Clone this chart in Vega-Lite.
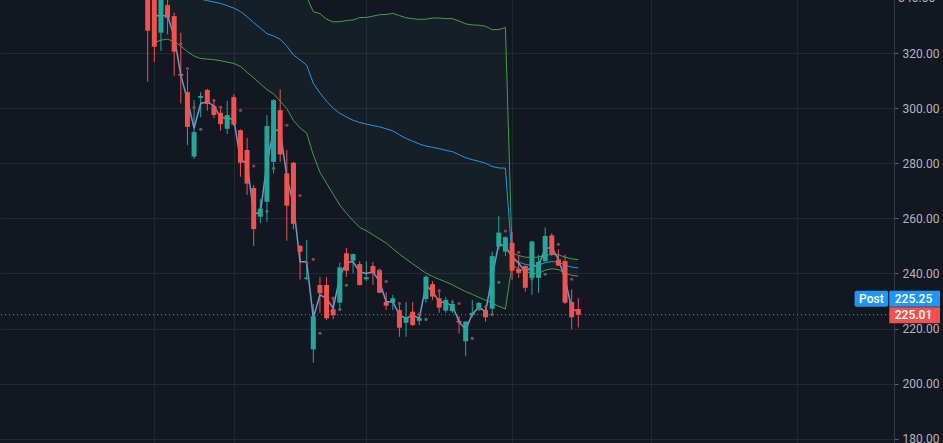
{
  "$schema": "https://vega.github.io/schema/vega-lite/v6.json",
  "width": 894,
  "height": 443,
  "autosize": {"type": "none"},
  "padding": {"left": 0, "top": 0, "right": 49, "bottom": 0},
  "background": "#131722",
  "config": {"view": {"stroke": null}, "font": "Roboto"},
  "datasets": {
    "candles": [
      {"i": 0, "o": 342, "h": 345, "l": 309.6, "c": 328.1, "ln": null},
      {"i": 1, "o": 341, "h": 343, "l": 316.8, "c": 322.3, "ln": 333.5},
      {"i": 2, "o": 327.4, "h": 344, "l": 320.8, "c": 341, "ln": 333.5},
      {"i": 3, "o": 337.4, "h": 341, "l": 326.8, "c": 332.8, "ln": 333.5},
      {"i": 4, "o": 333.4, "h": 334.6, "l": 311.7, "c": 320.5, "ln": 326},
      {"i": 5, "o": 312.4, "h": 327.4, "l": 301.7, "c": 311.8, "ln": 312},
      {"i": 6, "o": 305.8, "h": 313.6, "l": 286.6, "c": 293.2, "ln": 302.9},
      {"i": 7, "o": 282.4, "h": 302.9, "l": 281.5, "c": 291.3, "ln": 292.7},
      {"i": 8, "o": 303.7, "h": 305.8, "l": 296.7, "c": 304.4, "ln": 301.7},
      {"i": 9, "o": 306.6, "h": 307.0, "l": 299.1, "c": 301.5, "ln": 302.3},
      {"i": 10, "o": 300.8, "h": 302.9, "l": 296.4, "c": 297.5, "ln": 300.8},
      {"i": 11, "o": 298.3, "h": 300.8, "l": 291.8, "c": 294.2, "ln": 296.7},
      {"i": 12, "o": 292.5, "h": 302.7, "l": 290.6, "c": 297.5, "ln": 296.3},
      {"i": 13, "o": 304.0, "h": 305.0, "l": 293.5, "c": 294.0, "ln": 296.0},
      {"i": 14, "o": 292.0, "h": 292.3, "l": 275.1, "c": 280.2, "ln": 281.2},
      {"i": 15, "o": 284.8, "h": 289.1, "l": 268.5, "c": 272.6, "ln": 280.0},
      {"i": 16, "o": 271.0, "h": 272.1, "l": 250.0, "c": 256.1, "ln": 261.8},
      {"i": 17, "o": 260.6, "h": 267.0, "l": 258.2, "c": 263.5, "ln": 261.8},
      {"i": 18, "o": 266.0, "h": 297.5, "l": 258.8, "c": 293.5, "ln": 280.0},
      {"i": 19, "o": 280.5, "h": 303.3, "l": 276.3, "c": 302.9, "ln": 292.0},
      {"i": 20, "o": 299.3, "h": 306.8, "l": 280.5, "c": 283.2, "ln": 292.0},
      {"i": 21, "o": 276.3, "h": 284.8, "l": 251.9, "c": 264.6, "ln": 275.1},
      {"i": 22, "o": 280.2, "h": 280.5, "l": 256.0, "c": 258.0, "ln": 265.0},
      {"i": 23, "o": 250.0, "h": 250.3, "l": 237.8, "c": 247.9, "ln": 244.2},
      {"i": 24, "o": 238.0, "h": 252.1, "l": 237.5, "c": 238.5, "ln": 244.2},
      {"i": 25, "o": 212.4, "h": 228.9, "l": 207.6, "c": 224.5, "ln": 223.8},
      {"i": 26, "o": 235.8, "h": 238.8, "l": 225.7, "c": 232.8, "ln": 232.2},
      {"i": 27, "o": 235.8, "h": 238.6, "l": 223.1, "c": 223.7, "ln": 231.0},
      {"i": 28, "o": 227.0, "h": 231.5, "l": 223.4, "c": 224.8, "ln": 227.3},
      {"i": 29, "o": 229.4, "h": 243.9, "l": 226.5, "c": 242.2, "ln": 238.8},
      {"i": 30, "o": 247.3, "h": 249.2, "l": 238.8, "c": 241.0, "ln": 244.0},
      {"i": 31, "o": 244.6, "h": 247.2, "l": 240.0, "c": 247.0, "ln": 244.2},
      {"i": 32, "o": 243.4, "h": 244.4, "l": 235.6, "c": 235.8, "ln": 240.6},
      {"i": 33, "o": 237.9, "h": 244.4, "l": 237.2, "c": 238.6, "ln": 240.0},
      {"i": 34, "o": 242.7, "h": 244.1, "l": 235.9, "c": 240.0, "ln": 240.6},
      {"i": 35, "o": 241.2, "h": 241.5, "l": 232.8, "c": 233.0, "ln": 237.0},
      {"i": 36, "o": 229.7, "h": 233.2, "l": 226.7, "c": 228.3, "ln": 229.7},
      {"i": 37, "o": 229.4, "h": 232.2, "l": 226.7, "c": 231.0, "ln": 229.7},
      {"i": 38, "o": 226.7, "h": 229.6, "l": 217.0, "c": 220.3, "ln": 224.9},
      {"i": 39, "o": 222.1, "h": 229.6, "l": 217.0, "c": 224.0, "ln": 223.7},
      {"i": 40, "o": 226.1, "h": 229.6, "l": 220.9, "c": 221.3, "ln": 224.9},
      {"i": 41, "o": 222.8, "h": 225.6, "l": 221.3, "c": 223.8, "ln": 223.7},
      {"i": 42, "o": 230.7, "h": 239.4, "l": 229.4, "c": 238.8, "ln": 235.8},
      {"i": 43, "o": 236.1, "h": 237.2, "l": 230.4, "c": 231.6, "ln": 233.4},
      {"i": 44, "o": 231.0, "h": 234.2, "l": 225.7, "c": 227.6, "ln": 229.7},
      {"i": 45, "o": 226.5, "h": 231.5, "l": 225.7, "c": 230.4, "ln": 229.4},
      {"i": 46, "o": 226.3, "h": 230.4, "l": 225.7, "c": 228.9, "ln": 228.2},
      {"i": 47, "o": 222.8, "h": 224.5, "l": 218.3, "c": 222.2, "ln": 222.5},
      {"i": 48, "o": 215.4, "h": 222.6, "l": 210.0, "c": 222.5, "ln": 219.5},
      {"i": 49, "o": 224.9, "h": 230.4, "l": 224.1, "c": 225.7, "ln": 225.3},
      {"i": 50, "o": 226.8, "h": 229.6, "l": 226.7, "c": 229.3, "ln": 227.7},
      {"i": 51, "o": 226.7, "h": 228.5, "l": 222.5, "c": 224.1, "ln": 226.1},
      {"i": 52, "o": 227.2, "h": 247.9, "l": 224.9, "c": 246.3, "ln": 238.8},
      {"i": 53, "o": 249.7, "h": 260.8, "l": 248.7, "c": 254.8, "ln": 250.9},
      {"i": 54, "o": 247.9, "h": 253.5, "l": 246.3, "c": 253.1, "ln": 249.7},
      {"i": 55, "o": 251.1, "h": 255.0, "l": 237.6, "c": 241.0, "ln": 246.1},
      {"i": 56, "o": 241.6, "h": 246.7, "l": 238.4, "c": 240.2, "ln": 243.7},
      {"i": 57, "o": 242.7, "h": 242.9, "l": 233.4, "c": 234.8, "ln": 240.6},
      {"i": 58, "o": 238.4, "h": 251.8, "l": 232.2, "c": 251.6, "ln": 242.4},
      {"i": 59, "o": 238.4, "h": 246.7, "l": 233.0, "c": 244.2, "ln": 243.0},
      {"i": 60, "o": 244.5, "h": 256.7, "l": 243.9, "c": 253.6, "ln": 249.0},
      {"i": 61, "o": 253.8, "h": 254.6, "l": 246.3, "c": 247.0, "ln": 249.5},
      {"i": 62, "o": 245.0, "h": 248.7, "l": 242.7, "c": 242.8, "ln": 245.1},
      {"i": 63, "o": 244.5, "h": 246.9, "l": 228.8, "c": 229.4, "ln": 238.0},
      {"i": 64, "o": 229.6, "h": 234.2, "l": 219.8, "c": 224.1, "ln": 227.3},
      {"i": 65, "o": 227.1, "h": 231.0, "l": 220.4, "c": 225.01, "ln": 226.1}
    ],
    "bands": [
      {"i": 1, "up": 364.3, "mid": 344.0, "lo": 323.7},
      {"i": 2, "up": 363.3, "mid": 344.0, "lo": 324.7},
      {"i": 3, "up": 363.0, "mid": 344.0, "lo": 325.0},
      {"i": 4, "up": 362.8, "mid": 343.5, "lo": 324.2},
      {"i": 5, "up": 362.5, "mid": 342.5, "lo": 322.5},
      {"i": 6, "up": 362.5, "mid": 341.5, "lo": 320.5},
      {"i": 7, "up": 362.1, "mid": 340.5, "lo": 318.9},
      {"i": 8, "up": 361.2, "mid": 339.6, "lo": 318.0},
      {"i": 9, "up": 360.2, "mid": 339.0, "lo": 317.8},
      {"i": 10, "up": 359.4, "mid": 338.5, "lo": 317.6},
      {"i": 11, "up": 358.8, "mid": 338.0, "lo": 317.2},
      {"i": 12, "up": 357.7, "mid": 337.2, "lo": 316.7},
      {"i": 13, "up": 356.4, "mid": 336.3, "lo": 316.2},
      {"i": 14, "up": 355.1, "mid": 335.1, "lo": 315.1},
      {"i": 15, "up": 353.4, "mid": 333.2, "lo": 313.0},
      {"i": 16, "up": 351.0, "mid": 331.0, "lo": 311.0},
      {"i": 17, "up": 349.4, "mid": 329.1, "lo": 308.8},
      {"i": 18, "up": 347.3, "mid": 327.0, "lo": 306.7},
      {"i": 19, "up": 347.2, "mid": 326.2, "lo": 305.2},
      {"i": 20, "up": 347.5, "mid": 325.0, "lo": 302.5},
      {"i": 21, "up": 345.2, "mid": 322.5, "lo": 299.8},
      {"i": 22, "up": 343.1, "mid": 319.3, "lo": 295.5},
      {"i": 23, "up": 342.2, "mid": 317.5, "lo": 292.8},
      {"i": 24, "up": 340.3, "mid": 315.6, "lo": 290.9},
      {"i": 25, "up": 335.0, "mid": 309.0, "lo": 283.0},
      {"i": 26, "up": 334.3, "mid": 305.5, "lo": 276.7},
      {"i": 27, "up": 332.3, "mid": 302.5, "lo": 272.7},
      {"i": 28, "up": 331.3, "mid": 300.0, "lo": 268.7},
      {"i": 29, "up": 331.4, "mid": 298.1, "lo": 264.8},
      {"i": 30, "up": 331.8, "mid": 296.8, "lo": 261.8},
      {"i": 31, "up": 332.0, "mid": 295.6, "lo": 259.2},
      {"i": 32, "up": 332.9, "mid": 294.8, "lo": 256.7},
      {"i": 33, "up": 332.9, "mid": 294.2, "lo": 255.5},
      {"i": 34, "up": 333.4, "mid": 293.7, "lo": 254.0},
      {"i": 35, "up": 333.9, "mid": 293.2, "lo": 252.5},
      {"i": 36, "up": 334.0, "mid": 292.5, "lo": 251.0},
      {"i": 37, "up": 334.4, "mid": 291.7, "lo": 249.0},
      {"i": 38, "up": 333.6, "mid": 290.3, "lo": 247.0},
      {"i": 39, "up": 332.8, "mid": 289.0, "lo": 245.2},
      {"i": 40, "up": 332.5, "mid": 288.0, "lo": 243.5},
      {"i": 41, "up": 332.2, "mid": 287.0, "lo": 241.8},
      {"i": 42, "up": 332.3, "mid": 286.2, "lo": 240.1},
      {"i": 43, "up": 332.7, "mid": 285.8, "lo": 238.9},
      {"i": 44, "up": 332.7, "mid": 285.3, "lo": 237.9},
      {"i": 45, "up": 332.5, "mid": 284.7, "lo": 236.9},
      {"i": 46, "up": 332.5, "mid": 284.2, "lo": 235.9},
      {"i": 47, "up": 331.6, "mid": 283.1, "lo": 234.6},
      {"i": 48, "up": 330.6, "mid": 282.0, "lo": 233.4},
      {"i": 49, "up": 330.2, "mid": 281.3, "lo": 232.4},
      {"i": 50, "up": 330.1, "mid": 280.7, "lo": 231.3},
      {"i": 51, "up": 329.7, "mid": 280.0, "lo": 230.3},
      {"i": 52, "up": 328.5, "mid": 278.8, "lo": 229.1},
      {"i": 53, "up": 328.5, "mid": 278.3, "lo": 228.1},
      {"i": 54, "up": 329.3, "mid": 278.2, "lo": 227.1},
      {"i": 55, "up": 247.4, "mid": 245.2, "lo": 243.0},
      {"i": 56, "up": 246.5, "mid": 244.1, "lo": 241.7},
      {"i": 57, "up": 245.9, "mid": 243.3, "lo": 240.7},
      {"i": 58, "up": 245.8, "mid": 242.9, "lo": 240.0},
      {"i": 59, "up": 246.0, "mid": 243.0, "lo": 240.0},
      {"i": 60, "up": 246.6, "mid": 243.9, "lo": 241.2},
      {"i": 61, "up": 246.9, "mid": 244.3, "lo": 241.7},
      {"i": 62, "up": 246.8, "mid": 244.1, "lo": 241.4},
      {"i": 63, "up": 245.9, "mid": 243.0, "lo": 240.1},
      {"i": 64, "up": 245.3, "mid": 242.3, "lo": 239.3},
      {"i": 65, "up": 245.0, "mid": 242.0, "lo": 239.0}
    ],
    "dots": [
      {"i": 5, "p": 323.4, "side": "sell"},
      {"i": 6, "p": 314.4, "side": "sell"},
      {"i": 7, "p": 300.3, "side": "sell"},
      {"i": 8, "p": 292.3, "side": "buy"},
      {"i": 10, "p": 302.8, "side": "sell"},
      {"i": 11, "p": 300.3, "side": "sell"},
      {"i": 14, "p": 299.2, "side": "sell"},
      {"i": 16, "p": 279.0, "side": "sell"},
      {"i": 18, "p": 262.5, "side": "buy"},
      {"i": 19, "p": 278.2, "side": "buy"},
      {"i": 21, "p": 293.8, "side": "sell"},
      {"i": 23, "p": 268.3, "side": "sell"},
      {"i": 24, "p": 243.9, "side": "sell"},
      {"i": 25, "p": 245.1, "side": "sell"},
      {"i": 26, "p": 218.3, "side": "buy"},
      {"i": 28, "p": 231.0, "side": "sell"},
      {"i": 29, "p": 227.0, "side": "buy"},
      {"i": 30, "p": 235.7, "side": "buy"},
      {"i": 35, "p": 241.2, "side": "sell"},
      {"i": 36, "p": 237.1, "side": "sell"},
      {"i": 38, "p": 229.1, "side": "sell"},
      {"i": 41, "p": 225.2, "side": "sell"},
      {"i": 42, "p": 223.3, "side": "buy"},
      {"i": 44, "p": 233.7, "side": "sell"},
      {"i": 46, "p": 229.5, "side": "sell"},
      {"i": 47, "p": 229.1, "side": "sell"},
      {"i": 49, "p": 216.4, "side": "buy"},
      {"i": 50, "p": 227.0, "side": "buy"},
      {"i": 51, "p": 227.9, "side": "sell"},
      {"i": 52, "p": 225.1, "side": "buy"},
      {"i": 53, "p": 236.8, "side": "buy"},
      {"i": 54, "p": 255.4, "side": "sell"},
      {"i": 56, "p": 247.7, "side": "sell"},
      {"i": 58, "p": 238.0, "side": "buy"},
      {"i": 60, "p": 239.7, "side": "buy"},
      {"i": 62, "p": 250.6, "side": "sell"},
      {"i": 64, "p": 237.9, "side": "sell"}
    ],
    "tags": [
      {"name": "Post", "value": 225.25, "lo": 227.9, "hi": 233.7},
      {"name": "Last", "value": 225.01, "lo": 221.9, "hi": 227.7}
    ]
  },
  "layer": [
    {
      "data": {"name": "bands"},
      "mark": {"type": "area", "color": "#4caf50", "opacity": 0.06, "clip": true},
      "encoding": {
        "x": {"field": "i", "type": "quantitative", "title": null,
              "scale": {"domain": [-21.54, 111.9], "nice": false, "zero": false},
              "axis": {"values": [1, 13, 33, 55, 76, 98], "labels": false, "ticks": false,
                       "domain": false, "grid": true, "gridColor": "#242833", "gridWidth": 1}},
        "y": {"field": "up", "type": "quantitative", "title": null,
              "scale": {"domain": [178.45, 339.25], "nice": false, "zero": false},
              "axis": {"orient": "right", "values": [180, 200, 220, 240, 260, 280, 300, 320],
                       "format": ".2f", "labelColor": "#b2b5be", "labelFontSize": 12,
                       "labelFont": "Roboto", "tickColor": "#5d606b", "tickSize": 4,
                       "labelPadding": 4, "domainColor": "#363a45", "grid": true,
                       "gridColor": "#242833", "gridWidth": 1}},
        "y2": {"field": "lo"}
      }
    },
    {
      "data": {"name": "bands"},
      "mark": {"type": "line", "color": "#43a047", "strokeWidth": 1, "clip": true},
      "encoding": {
        "x": {"field": "i", "type": "quantitative", "title": null},
        "y": {"field": "up", "type": "quantitative", "title": null,
              "scale": {"domain": [178.45, 339.25], "nice": false, "zero": false}}
      }
    },
    {
      "data": {"name": "bands"},
      "mark": {"type": "line", "color": "#43a047", "strokeWidth": 1, "clip": true},
      "encoding": {
        "x": {"field": "i", "type": "quantitative", "title": null},
        "y": {"field": "lo", "type": "quantitative", "title": null,
              "scale": {"domain": [178.45, 339.25], "nice": false, "zero": false}}
      }
    },
    {
      "data": {"name": "bands"},
      "mark": {"type": "line", "color": "#2196f3", "strokeWidth": 1, "clip": true},
      "encoding": {
        "x": {"field": "i", "type": "quantitative", "title": null},
        "y": {"field": "mid", "type": "quantitative", "title": null,
              "scale": {"domain": [178.45, 339.25], "nice": false, "zero": false}}
      }
    },
    {
      "data": {"values": [{"p": 225.01}]},
      "mark": {"type": "rule", "color": "#2196f3", "strokeWidth": 1, "strokeDash": [1, 3]},
      "encoding": {
        "y": {"field": "p", "type": "quantitative", "title": null,
              "scale": {"domain": [178.45, 339.25], "nice": false, "zero": false}}
      }
    },
    {
      "data": {"name": "candles"},
      "mark": {"type": "rule", "strokeWidth": 1, "clip": true},
      "encoding": {
        "x": {"field": "i", "type": "quantitative", "title": null},
        "y": {"field": "l", "type": "quantitative", "title": null,
              "scale": {"domain": [178.45, 339.25], "nice": false, "zero": false}},
        "y2": {"field": "h"},
        "color": {"condition": {"test": "datum.c < datum.o", "value": "#ef5350"}, "value": "#26a69a"}
      }
    },
    {
      "data": {"name": "candles"},
      "mark": {"type": "line", "color": "#7097c9", "strokeWidth": 1.5, "clip": true},
      "encoding": {
        "x": {"field": "i", "type": "quantitative", "title": null},
        "y": {"field": "ln", "type": "quantitative", "title": null,
              "scale": {"domain": [178.45, 339.25], "nice": false, "zero": false}}
      }
    },
    {
      "data": {"name": "candles"},
      "mark": {"type": "bar", "size": 5, "clip": true},
      "encoding": {
        "x": {"field": "i", "type": "quantitative", "title": null},
        "y": {"field": "o", "type": "quantitative", "title": null,
              "scale": {"domain": [178.45, 339.25], "nice": false, "zero": false}},
        "y2": {"field": "c"},
        "color": {"condition": {"test": "datum.c < datum.o", "value": "#ef5350"}, "value": "#26a69a"}
      }
    },
    {
      "data": {"name": "dots"},
      "mark": {"type": "circle", "size": 10, "opacity": 0.9},
      "encoding": {
        "x": {"field": "i", "type": "quantitative", "title": null},
        "y": {"field": "p", "type": "quantitative", "title": null,
              "scale": {"domain": [178.45, 339.25], "nice": false, "zero": false}},
        "color": {"field": "side", "type": "nominal", "legend": null,
                  "scale": {"domain": ["sell", "buy"], "range": ["#9a4a54", "#4f7f5c"]}}
      }
    },
    {
      "data": {"name": "tags"},
      "transform": [{"filter": "datum.name === 'Post'"}],
      "mark": {"type": "rect", "color": "#2196f3", "cornerRadius": 2},
      "encoding": {
        "x": {"datum": 106.7, "type": "quantitative"},
        "x2": {"datum": 111.78},
        "y": {"field": "lo", "type": "quantitative", "title": null,
              "scale": {"domain": [178.45, 339.25], "nice": false, "zero": false}},
        "y2": {"field": "hi"}
      }
    },
    {
      "data": {"name": "tags"},
      "mark": {"type": "rect"},
      "encoding": {
        "x": {"datum": 111.95, "type": "quantitative"},
        "x2": {"datum": 119.6},
        "y": {"field": "lo", "type": "quantitative", "title": null,
              "scale": {"domain": [178.45, 339.25], "nice": false, "zero": false}},
        "y2": {"field": "hi"},
        "color": {"condition": {"test": "datum.name === 'Post'", "value": "#2196f3"}, "value": "#ef5350"}
      }
    },
    {
      "data": {"name": "tags"},
      "transform": [{"filter": "datum.name === 'Post'"}],
      "mark": {"type": "text", "color": "#ffffff", "fontSize": 12, "font": "Roboto", "fontWeight": 500, "align": "center", "baseline": "alphabetic", "dy": -4},
      "encoding": {
        "x": {"datum": 109.24, "type": "quantitative"},
        "y": {"field": "lo", "type": "quantitative", "title": null,
              "scale": {"domain": [178.45, 339.25], "nice": false, "zero": false}},
        "text": {"field": "name"}
      }
    },
    {
      "data": {"name": "tags"},
      "mark": {"type": "text", "color": "#ffffff", "fontSize": 12, "font": "Roboto", "fontWeight": 500, "align": "center", "baseline": "alphabetic", "dy": -4},
      "encoding": {
        "x": {"datum": 115.6, "type": "quantitative"},
        "y": {"field": "lo", "type": "quantitative", "title": null,
              "scale": {"domain": [178.45, 339.25], "nice": false, "zero": false}},
        "text": {"field": "value", "format": ".2f"}
      }
    },
    {
      "data": {"values": [{"p": 340}]},
      "mark": {"type": "text", "color": "#b2b5be", "fontSize": 12, "font": "Roboto", "align": "left", "baseline": "middle"},
      "encoding": {
        "x": {"datum": 113.3, "type": "quantitative"},
        "y": {"field": "p", "type": "quantitative", "title": null,
              "scale": {"domain": [178.45, 339.25], "nice": false, "zero": false}},
        "text": {"field": "p", "format": ".2f"}
      }
    }
  ]
}
